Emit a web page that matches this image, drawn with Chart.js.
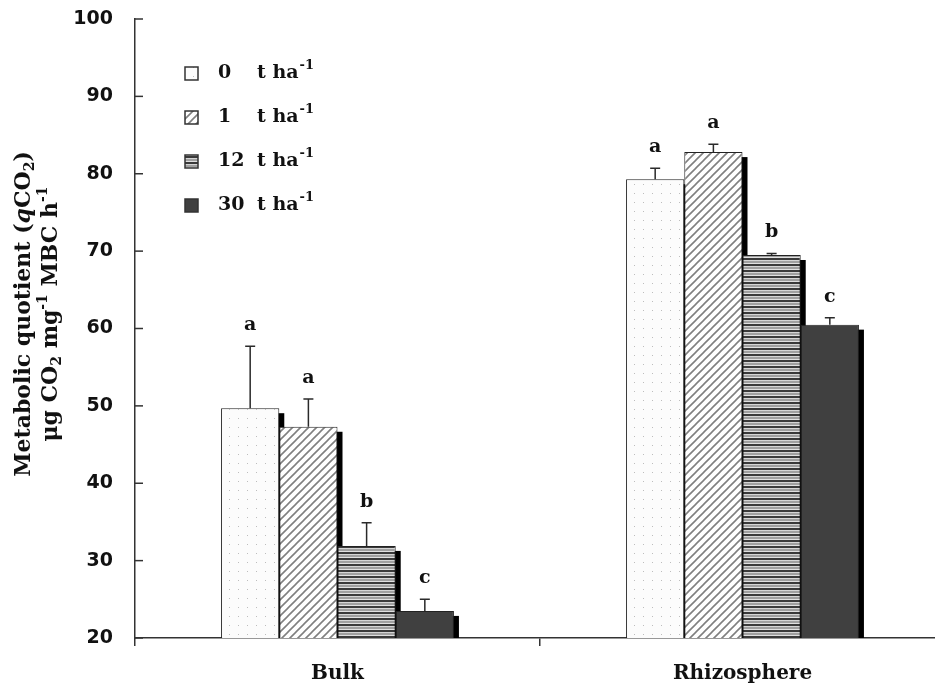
<!DOCTYPE html>
<html>
<head>
<meta charset="utf-8">
<script src="https://cdn.jsdelivr.net/npm/chart.js@4.4.0/dist/chart.umd.min.js"></script>
<style>
  html, body { margin: 0; padding: 0; background: #fff; overflow: hidden; }
  #wrap { width: 945px; height: 689px; }
</style>
</head>
<body>
<div id="wrap"><canvas id="chart" width="945" height="689"></canvas></div>
<script>
// data
const categories = ['Bulk', 'Rhizosphere'];
const doseLabels = ['0', '1', '12', '30'];
const rate0 = [49.7, 79.3];
const rate1 = [47.3, 82.8];
const rate12 = [31.9, 69.5];
const rate30 = [23.5, 60.5];
const err0 = [57.7, 80.7];
const err1 = [50.9, 83.8];
const err12 = [34.9, 69.7];
const err30 = [25.0, 61.4];
const letters0 = ['a', 'a'];
const letters1 = ['a', 'a'];
const letters12 = ['b', 'b'];
const letters30 = ['c', 'c'];
const yTicks = [20, 30, 40, 50, 60, 70, 80, 90, 100];

const errTops = [err0, err1, err12, err30];
const letters = [letters0, letters1, letters12, letters30];

// fill patterns for the bars
function makePattern(kind) {
    const c = document.createElement('canvas');
    const g = c.getContext('2d');
    if (kind === 'dots') {
        c.width = 9; c.height = 9;
        g.fillStyle = '#fcfcfc'; g.fillRect(0, 0, 9, 9);
        g.fillStyle = '#bdbdbd'; g.fillRect(4, 4, 1, 1);
    } else if (kind === 'diag') {
        c.width = 8; c.height = 8;
        g.fillStyle = '#fff'; g.fillRect(0, 0, 8, 8);
        g.strokeStyle = '#808080'; g.lineWidth = 1.6;
        g.beginPath();
        g.moveTo(-1, 9); g.lineTo(9, -1);
        g.moveTo(-1, 1); g.lineTo(1, -1);
        g.moveTo(7, 9); g.lineTo(9, 7);
        g.stroke();
    } else if (kind === 'horiz') {
        c.width = 6; c.height = 6;
        g.fillStyle = '#3a3a3a'; g.fillRect(0, 0, 6, 2);
        g.fillStyle = '#d4d4d4'; g.fillRect(0, 2, 6, 1);
        g.fillStyle = '#a0a0a0'; g.fillRect(0, 3, 6, 2);
        g.fillStyle = '#e0e0e0'; g.fillRect(0, 5, 6, 1);
    }
    return g.createPattern(c, 'repeat');
}

const fills = [makePattern('dots'), makePattern('diag'), makePattern('horiz'), '#404040'];

const textFont = '"DejaVu Serif", serif';

// draw a line of text made of runs (normal / italic / sub / sup), centred at x
function drawRuns(ctx, runs, cx, cy, size) {
    const fontFor = r => {
        const s = (r.k === 'sub' || r.k === 'sup') ? Math.round(size * 0.65) : size;
        return (r.k === 'it' ? 'italic ' : '') + 'bold ' + s + 'px "DejaVu Serif", serif';
    };
    let total = 0;
    runs.forEach(r => { ctx.font = fontFor(r); total += ctx.measureText(r.t).width; });
    let x = cx - total / 2;
    ctx.textBaseline = 'middle';
    ctx.textAlign = 'left';
    runs.forEach(r => {
        ctx.font = fontFor(r);
        let dy = 0;
        if (r.k === 'sub') dy = size * 0.3;
        if (r.k === 'sup') dy = -size * 0.35;
        ctx.fillText(r.t, x, cy + dy);
        x += ctx.measureText(r.t).width;
    });
}

const decor = {
    id: 'decor',
    beforeDatasetsDraw(chart) {
        const ctx = chart.ctx;
        const area = chart.chartArea;
        ctx.save();
        ctx.fillStyle = '#000';
        chart.data.datasets.forEach((ds, i) => {
            chart.getDatasetMeta(i).data.forEach(bar => {
                const w = bar.width;
                const bottom = Math.min(bar.base, area.bottom);
                ctx.fillRect(bar.x - w / 2 + 5, bar.y + 5, w, bottom - bar.y - 5);
            });
        });
        ctx.restore();
    },
    afterDatasetsDraw(chart) {
        const ctx = chart.ctx;
        const y = chart.scales.y;
        const area = chart.chartArea;
        ctx.save();

        // error bars (upper only) and letters
        chart.data.datasets.forEach((ds, i) => {
            chart.getDatasetMeta(i).data.forEach((bar, j) => {
                const top = y.getPixelForValue(errTops[i][j]);
                ctx.strokeStyle = '#2a2a2a';
                ctx.lineWidth = 1.5;
                ctx.beginPath();
                ctx.moveTo(bar.x, bar.y);
                ctx.lineTo(bar.x, top);
                ctx.moveTo(bar.x - 5, top);
                ctx.lineTo(bar.x + 5, top);
                ctx.stroke();
                ctx.fillStyle = '#111';
                ctx.font = 'bold 19px ' + textFont;
                ctx.textAlign = 'center';
                ctx.textBaseline = 'middle';
                ctx.fillText(letters[i][j], bar.x, top - 21);
            });
        });

        // inward ticks on the y axis
        ctx.strokeStyle = '#333';
        ctx.lineWidth = 1.5;
        yTicks.forEach(v => {
            const p = y.getPixelForValue(v);
            ctx.beginPath();
            ctx.moveTo(area.left, p);
            ctx.lineTo(area.left + 8, p);
            ctx.stroke();
        });

        // legend
        chart.data.datasets.forEach((ds, i) => {
            const cy = 73 + i * 44;
            ctx.fillStyle = ds.backgroundColor;
            ctx.fillRect(185, cy - 6, 13, 13);
            ctx.strokeStyle = '#333';
            ctx.lineWidth = 1.5;
            ctx.strokeRect(185, cy - 6, 13, 13);
            ctx.fillStyle = '#111';
            ctx.textAlign = 'left';
            ctx.textBaseline = 'middle';
            ctx.font = 'bold 19px ' + textFont;
            ctx.fillText(doseLabels[i], 218, cy);
            ctx.fillText('t ha', 257, cy);
            const w = ctx.measureText('t ha').width;
            ctx.font = 'bold 13px ' + textFont;
            ctx.fillText('-1', 257 + w + 1, cy - 7);
        });

        // y axis title, two rotated lines
        ctx.save();
        ctx.fillStyle = '#111';
        ctx.translate(24, 314);
        ctx.rotate(-Math.PI / 2);
        drawRuns(ctx, [
            { t: 'Metabolic quotient (' }, { t: 'q', k: 'it' }, { t: 'CO' }, { t: '2', k: 'sub' }, { t: ')' }
        ], 0, 0, 22);
        drawRuns(ctx, [
            { t: 'μg CO' }, { t: '2', k: 'sub' }, { t: ' mg' }, { t: '-1', k: 'sup' },
            { t: ' MBC h' }, { t: '-1', k: 'sup' }
        ], 0, 27, 22);
        ctx.restore();

        ctx.restore();
    }
};

const ctx = document.getElementById('chart').getContext('2d');
new Chart(ctx, {
    type: 'bar',
    data: {
        labels: categories,
        datasets: [rate0, rate1, rate12, rate30].map((vals, i) => ({
            label: doseLabels[i] + ' t ha-1',
            data: vals,
            backgroundColor: fills[i],
            borderColor: '#222',
            borderWidth: 1,
            borderSkipped: false,
            barPercentage: 1,
            categoryPercentage: 0.575
        }))
    },
    options: {
        responsive: false,
        animation: false,
        devicePixelRatio: 1,
        layout: { padding: { top: 19, right: 0, bottom: 0, left: 0 } },
        plugins: {
            legend: { display: false },
            tooltip: { enabled: false }
        },
        scales: {
            x: {
                offset: true,
                grid: { offset: true, drawOnChartArea: false, drawTicks: true, tickLength: 8, color: '#333', lineWidth: 1.5 },
                border: { color: '#333', width: 1.5 },
                ticks: { color: '#111', font: { family: 'DejaVu Serif', weight: 'bold', size: 20 }, padding: 16 },
                afterFit: s => { s.height = 51; s.paddingLeft = 0; s.paddingRight = 0; }
            },
            y: {
                min: 20,
                max: 100,
                grid: { display: false, drawTicks: false },
                border: { display: true, color: '#333', width: 1.5 },
                ticks: { stepSize: 10, color: '#111', font: { family: 'DejaVu Sans', weight: 'bold', size: 19 }, padding: 22 },
                afterFit: s => { s.width = 135; s.paddingTop = 0; s.paddingBottom = 0; }
            }
        }
    },
    plugins: [decor]
});
</script>
</body>
</html>
